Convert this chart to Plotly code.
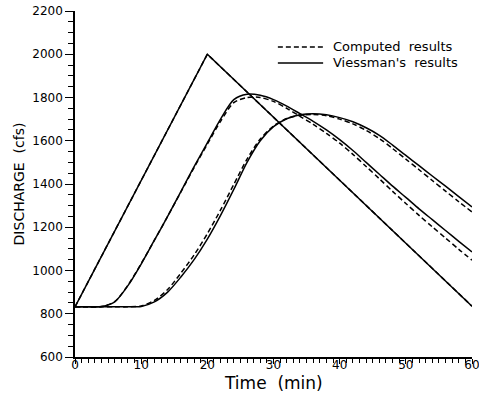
import plotly.graph_objects as go

# Time axis (min)
time_inflow = [0, 20, 60]
time_routed = list(range(0, 62, 2))

# Inflow hydrograph (triangular), cfs
inflow_viessman = [832, 2000, 835]
inflow_computed = [832, 2000, 835]

# Outflow from first reach, cfs
reach1_viessman = [832, 832, 833, 855, 930, 1030, 1140, 1250, 1365, 1480, 1590,
                   1700, 1790, 1815, 1810, 1790, 1760, 1725, 1690, 1650, 1605,
                   1555, 1500, 1445, 1390, 1338, 1285, 1235, 1185, 1135, 1086]
reach1_computed = [832, 832, 833, 856, 932, 1032, 1140, 1250, 1363, 1476, 1584,
                   1690, 1776, 1800, 1800, 1782, 1750, 1713, 1676, 1634, 1589,
                   1537, 1481, 1424, 1366, 1310, 1255, 1202, 1150, 1098, 1048]

# Outflow from second reach, cfs
reach2_viessman = [832, 832, 832, 832, 832, 834, 855, 900, 970, 1050, 1145,
                   1255, 1375, 1500, 1600, 1665, 1702, 1720, 1725, 1720, 1707,
                   1688, 1660, 1625, 1580, 1532, 1485, 1437, 1390, 1342, 1294]
reach2_computed = [832, 832, 832, 832, 832, 836, 862, 912, 988, 1072, 1170,
                   1280, 1398, 1515, 1608, 1668, 1703, 1718, 1722, 1716, 1700,
                   1678, 1648, 1610, 1564, 1515, 1466, 1416, 1367, 1318, 1271]

x_ticks = [0, 10, 20, 30, 40, 50, 60]
y_ticks = [600, 800, 1000, 1200, 1400, 1600, 1800, 2000, 2200]

FONT = "DejaVu Sans"
solid = dict(color="black", width=1.5)
dashed = dict(color="black", width=1.5, dash="5px,3px")

fig = go.Figure()

# Viessman's results (solid)
fig.add_trace(go.Scatter(x=time_inflow, y=inflow_viessman, mode="lines",
                         line=solid, showlegend=False))
fig.add_trace(go.Scatter(x=time_routed, y=reach1_viessman, mode="lines",
                         line=dict(solid, shape="spline", smoothing=0.8),
                         showlegend=False))
fig.add_trace(go.Scatter(x=time_routed, y=reach2_viessman, mode="lines",
                         line=dict(solid, shape="spline", smoothing=0.8),
                         showlegend=False))

# Computed results (dashed)
fig.add_trace(go.Scatter(x=time_inflow, y=inflow_computed, mode="lines",
                         line=dashed, showlegend=False))
fig.add_trace(go.Scatter(x=time_routed, y=reach1_computed, mode="lines",
                         line=dict(dashed, shape="spline", smoothing=0.8),
                         showlegend=False))
fig.add_trace(go.Scatter(x=time_routed, y=reach2_computed, mode="lines",
                         line=dict(dashed, shape="spline", smoothing=0.8),
                         showlegend=False))

# Legend drawn as line samples with labels
legend_rows = [("Computed\u00a0\u00a0results", "5px,3px", 0.896),
               ("Viessman's\u00a0\u00a0results", "solid", 0.850)]
for label, dash, yy in legend_rows:
    fig.add_shape(type="line", xref="paper", yref="paper",
                  x0=0.511, x1=0.625, y0=yy, y1=yy,
                  line=dict(color="black", width=1.5, dash=dash))
    fig.add_annotation(xref="paper", yref="paper", x=0.645, y=yy,
                       text=label, showarrow=False, xanchor="left",
                       yanchor="middle",
                       font=dict(family=FONT, size=13, color="black"))

# x-axis title
fig.add_annotation(xref="paper", yref="paper", x=0.5, y=-0.074,
                   text="Time\u00a0\u00a0(min)", showarrow=False,
                   xanchor="center", yanchor="middle",
                   font=dict(family=FONT, size=17, color="black"))

fig.update_layout(
    width=479, height=403,
    margin=dict(l=75, r=7, t=11, b=46),
    paper_bgcolor="white", plot_bgcolor="white",
    font=dict(family=FONT, color="black"),
    xaxis=dict(
        range=[0, 60], tickvals=x_ticks, showgrid=False, zeroline=False,
        showline=True, linecolor="black", linewidth=1.5,
        ticks="outside", ticklen=5, tickwidth=1.2, tickcolor="black",
        tickfont=dict(family=FONT, size=12, color="black"),
        ticklabelstandoff=-9, ticklabeloverflow="allow",
        minor=dict(dtick=1, ticks="outside", ticklen=4, tickwidth=1,
                   tickcolor="black", showgrid=False),
        automargin=False,
    ),
    yaxis=dict(
        range=[600, 2200], tickvals=y_ticks, showgrid=False, zeroline=False,
        showline=True, linecolor="black", linewidth=1.5,
        ticks="outside", ticklen=8, tickwidth=1.2, tickcolor="black",
        tickfont=dict(family=FONT, size=12, color="black"),
        minor=dict(dtick=50, ticks="outside", ticklen=5, tickwidth=1,
                   tickcolor="black", showgrid=False),
        title=dict(text="DISCHARGE\u00a0\u00a0(cfs)", standoff=4,
                   font=dict(family=FONT, size=14, color="black")),
        automargin=False,
    ),
)

fig.write_html("out.html")
